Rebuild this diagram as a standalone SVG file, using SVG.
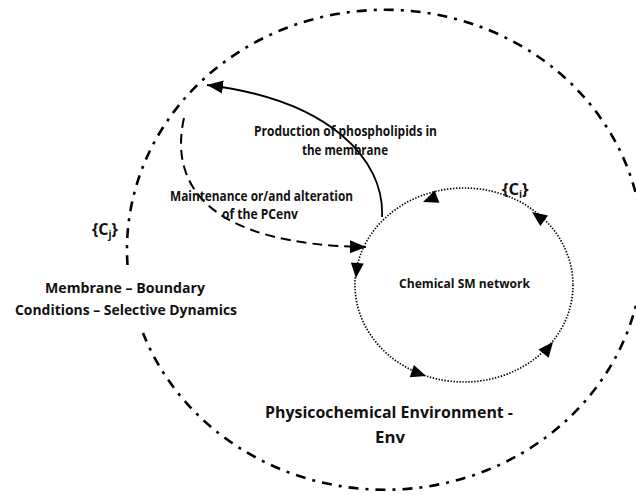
<svg xmlns="http://www.w3.org/2000/svg" width="636" height="495" viewBox="0 0 636 495">
<style>
.t{font-family:"Open Sans","Liberation Sans",sans-serif;font-weight:700;fill:#111;}
.outer{fill:none;stroke:#000;stroke-width:2.6;stroke-dasharray:10 7 3 7;}
.dot{fill:none;stroke:#000;stroke-width:1.7;stroke-dasharray:1.4 1.6;}
.solid{fill:none;stroke:#000;stroke-width:1.8;}
.dash{fill:none;stroke:#000;stroke-width:2;stroke-dasharray:10 6;}
</style>
<defs>
<path id="ah" d="M0,0 L-15,-6.5 L-15,6.5 Z" fill="#000"/>
<marker id="m" markerUnits="userSpaceOnUse" markerWidth="17" markerHeight="15" refX="16" refY="7.5" orient="auto">
<path d="M16,7.5 L0,1 L0,14 Z" fill="#000"/>
</marker>
</defs>
<rect width="636" height="495" fill="#fff"/>
<g id="environment">
<path class="outer" d="M127.5,265 A258,240 0 1,1 143,333"/>
<text class="t" x="389" y="418" font-size="16.5" text-anchor="middle" textLength="248" lengthAdjust="spacingAndGlyphs">Physicochemical Environment -</text>
<text class="t" x="390" y="443" font-size="16.5" text-anchor="middle" textLength="30" lengthAdjust="spacingAndGlyphs">Env</text>
</g>
<g id="membrane">
<text class="t" x="92" y="235" font-size="16">{C<tspan font-size="10" dy="3">j</tspan><tspan dy="-3">}</tspan></text>
<text class="t" x="125" y="293" font-size="13.5" text-anchor="middle" textLength="160" lengthAdjust="spacingAndGlyphs">Membrane – Boundary</text>
<text class="t" x="126" y="315" font-size="13.5" text-anchor="middle" textLength="222" lengthAdjust="spacingAndGlyphs">Conditions – Selective Dynamics</text>
</g>
<g id="network">
<ellipse class="dot" cx="464" cy="285" rx="109" ry="97"/>
<use href="#ah" transform="translate(423,202) rotate(159)"/>
<use href="#ah" transform="translate(532,212) rotate(216)"/>
<use href="#ah" transform="translate(356,278) rotate(95)"/>
<use href="#ah" transform="translate(426,376) rotate(19)"/>
<use href="#ah" transform="translate(553,342) rotate(-51)"/>
<text class="t" x="464.5" y="288" font-size="12.2" text-anchor="middle" textLength="131" lengthAdjust="spacingAndGlyphs">Chemical SM network</text>
<text class="t" x="502" y="195" font-size="16.5">{C<tspan font-size="10" dy="3">i</tspan><tspan dy="-3">}</tspan></text>
</g>
<g id="connectors">
<path class="solid" d="M382,217 C385,160 330,100 207,85" marker-end="url(#m)"/>
<path class="dash" d="M184,118 C168,190 215,245 366,247" marker-end="url(#m)"/>
</g>
<g id="labels">
<text class="t" x="345.5" y="136" font-size="13.5" text-anchor="middle" textLength="183" lengthAdjust="spacingAndGlyphs">Production of phospholipids in</text>
<text class="t" x="345" y="155" font-size="13.5" text-anchor="middle" textLength="86" lengthAdjust="spacingAndGlyphs">the membrane</text>
<text class="t" x="261.5" y="201" font-size="13.5" text-anchor="middle" textLength="183" lengthAdjust="spacingAndGlyphs">Maintenance or/and alteration</text>
<text class="t" x="260" y="219" font-size="13.5" text-anchor="middle" textLength="76" lengthAdjust="spacingAndGlyphs">of the PCenv</text>
</g>
</svg>
